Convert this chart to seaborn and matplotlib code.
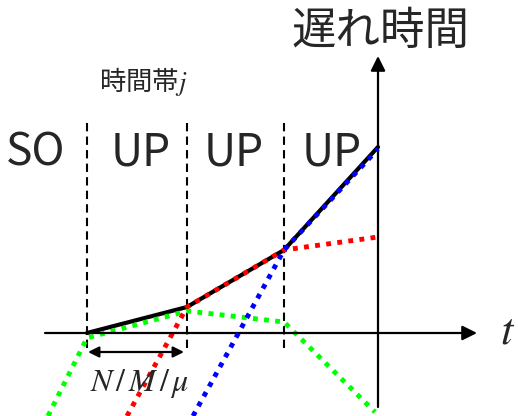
import matplotlib
matplotlib.use('Agg')
import matplotlib.pyplot as plt
import seaborn as sns

# time band boundaries (t, origin at the delay axis)
boundaries = [-291, -191, -94]
band_labels = ['SO', 'UP', 'UP', 'UP']
band_centers = [-342, -237, -144, -46]

# delay curves
black_t = [-291, -191, -94, 0]
black_d = [0, 26, 83, 186]
green_t = [-330, -291, -191, -94, -3]
green_d = [-83, -5, 22, 11, -79]
red_t = [-251, -191, -94, 0]
red_d = [-83, 26, 83, 96]
blue_t = [-185, -94, 0]
blue_d = [-83, 83, 184]

sns.set_style('white')
plt.rcParams['font.family'] = ['Noto Sans CJK JP', 'DejaVu Sans']

fig = plt.figure(figsize=(5.18, 4.16), dpi=100)
ax = fig.add_axes([0, 0, 1, 1])
ax.set_xlim(-378, 140)
ax.set_ylim(-83, 333)
ax.axis('off')

dot = (0, (1.0, 1.3))
sns.lineplot(x=green_t, y=green_d, color='#00FF00', lw=3.5, linestyle=dot, ax=ax, zorder=3)
sns.lineplot(x=red_t, y=red_d, color='#FF0000', lw=3.5, linestyle=dot, ax=ax, zorder=3)
sns.lineplot(x=blue_t, y=blue_d, color='#0000FF', lw=3.5, linestyle=dot, ax=ax, zorder=4)
sns.lineplot(x=black_t, y=black_d, color='black', lw=3, ax=ax, zorder=2)

# dashed band separators
ax.vlines(boundaries, -15, 210, colors='black', linestyles=(0, (4, 2.5)), lw=1.5)

# axes arrows
arr = dict(arrowstyle='-|>', mutation_scale=22, lw=1.6, color='black', shrinkA=0, shrinkB=0)
ax.annotate('', xy=(99, 0), xytext=(-333, 0), arrowprops=arr)
ax.annotate('', xy=(0, 277), xytext=(0, -74), arrowprops=arr)

# interval arrow
ax.annotate('', xy=(-194, -19), xytext=(-290, -19),
            arrowprops=dict(arrowstyle='<|-|>', mutation_scale=16, lw=1.6, color='black',
                            shrinkA=0, shrinkB=0))
ax.text(-238, -50, r'$N\,/\,M\,/\,\mu$', fontsize=23, ha='center', va='center',
        math_fontfamily='stix')

for c, lab in zip(band_centers, band_labels):
    ax.text(c, 181, lab, fontsize=32, ha='center', va='center')

ax.text(2, 302, '遅れ時間', fontsize=32, ha='center', va='center')
ax.text(-235, 251, '時間帯' + r'$j$', fontsize=19, ha='center', va='center',
        math_fontfamily='stix')
ax.text(130, 2, r'$t$', fontsize=32, ha='center', va='center', math_fontfamily='stix')

fig.savefig('out.png', dpi=100)
